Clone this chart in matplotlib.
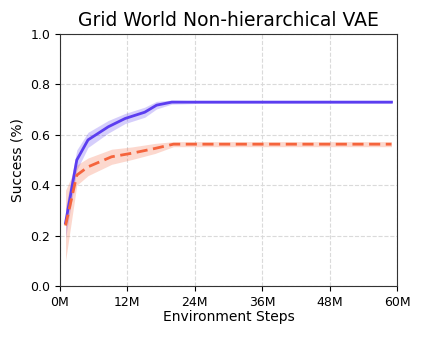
import numpy as np
import matplotlib.pyplot as plt

# environment steps (millions)
steps = [1.0, 3.0, 5.0, 8.6, 11.6, 15.1, 17.2, 19.9, 25, 35, 45, 59]
hier_mean = [0.25, 0.50, 0.58, 0.632, 0.665, 0.69, 0.718, 0.73, 0.73, 0.73, 0.73, 0.73]
hier_err = [0.06, 0.04, 0.03, 0.025, 0.02, 0.02, 0.015, 0.008, 0.005, 0.005, 0.005, 0.005]

steps_b = [1.0, 3.0, 5.0, 9.2, 12.8, 16.9, 20.2, 25, 35, 45, 59]
flat_mean = [0.24, 0.44, 0.473, 0.513, 0.527, 0.546, 0.563, 0.563, 0.563, 0.563, 0.563]
flat_err = [0.14, 0.04, 0.035, 0.03, 0.025, 0.02, 0.01, 0.01, 0.01, 0.01, 0.01]

xticks = [0, 12, 24, 36, 48, 60]
xticklabels = ['0M', '12M', '24M', '36M', '48M', '60M']

blue = '#5b3df0'
red = '#f5643c'

fig = plt.figure(figsize=(4.22, 3.38), dpi=100)
ax = fig.add_axes([0.142, 0.154, 0.799, 0.745])

x1 = np.array(steps); m1 = np.array(hier_mean); e1 = np.array(hier_err)
x2 = np.array(steps_b); m2 = np.array(flat_mean); e2 = np.array(flat_err)

ax.fill_between(x1, m1 - e1, m1 + e1, color=blue, alpha=0.25, lw=0)
ax.plot(x1, m1, color=blue, lw=2)
ax.fill_between(x2, m2 - e2, m2 + e2, color=red, alpha=0.25, lw=0)
ax.plot(x2, m2, color=red, lw=2, ls=(0, (4, 2)))

ax.set_xlim(0, 60)
ax.set_ylim(0, 1)
ax.set_xticks(xticks)
ax.set_xticklabels(xticklabels)
ax.set_yticks(np.arange(0, 1.01, 0.2))
ax.grid(True, ls='--', color='#dadada', lw=0.8)
ax.set_axisbelow(True)
ax.tick_params(labelsize=9)
for s in ax.spines.values():
    s.set_color('#333333')
ax.set_xlabel('Environment Steps', fontsize=10, labelpad=1)
ax.set_ylabel('Success (%)', fontsize=10)
ax.set_title('Grid World Non-hierarchical VAE', fontsize=13.5)

fig.savefig('out.png', dpi=100)
